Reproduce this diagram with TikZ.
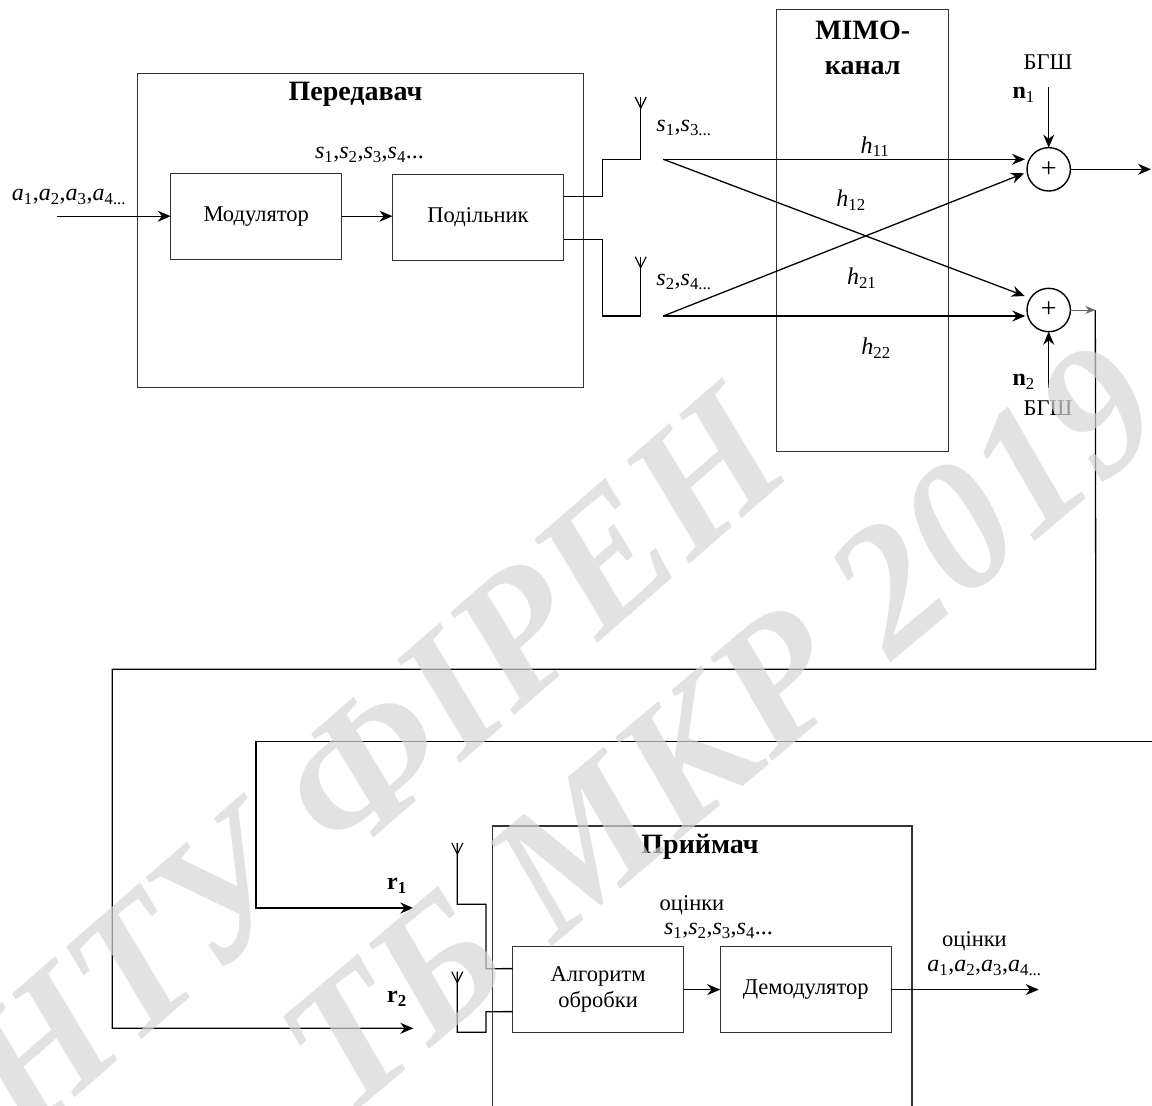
\documentclass[tikz,border=0pt]{standalone}
\usepackage{fontspec}
\setmainfont{Liberation Serif}
\usetikzlibrary{arrows.meta,calc}
\newcommand{\vv}[2]{\textit{#1}\textsubscript{#2}}
\begin{document}
\begin{tikzpicture}[x=1pt,y=-1pt,
  every node/.style={inner sep=0pt, outer sep=0pt},
  frame/.style={draw=black!80, line width=1.4pt},
  blk/.style={frame, minimum width=171pt, minimum height=86pt, font=\fontsize{22.5}{27}\selectfont, align=center},
  wire/.style={line width=1.3pt, draw=black},
  arr/.style={wire, -{Stealth[length=13pt,width=11pt]}},
  thinarr/.style={line width=1pt, draw=black!60, -{Stealth[length=10pt,width=8pt]}},
  lbl/.style={font=\fontsize{22.5}{27}\selectfont},
  mlbl/.style={font=\fontsize{24}{27}\selectfont},
  ttl/.style={font=\bfseries\fontsize{28}{35.5}\selectfont, align=center},
  sum/.style={circle, draw, line width=1.4pt, minimum size=43.4pt, font=\fontsize{28}{28}\selectfont},
  wm/.style={font=\bfseries\itshape\fontsize{182}{182}\selectfont, text=black!16, opacity=0.7},
  antenna/.pic={\draw[wire, line width=1.2pt] (-5.5,0) -- (0,11) -- (5.5,0);},
]
\useasboundingbox (0,0) rectangle (1152,1106);
\fill[white] (0,0) rectangle (1152,1106);

% ---------- transmitter ----------
\node[frame, minimum width=445.8pt, minimum height=314pt] (tx) at (360.6,230.3) {};
\node[ttl] (txT) at (355.5,94) {Передавач};
\node[blk] (mod) at (256.2,216.2) {Модулятор};
\node[blk] (pod) at (478,217.7) {Подільник};
\node[mlbl] (sAll) at (369.5,155) {\vv{s}{1},\vv{s}{2},\vv{s}{3},\vv{s}{4}...};
\coordinate (in1) at (56.7,216.2);
\node[mlbl] (aIn) at (69,196.7) {\vv{a}{1},\vv{a}{2},\vv{a}{3},\vv{a}{4...}};
\draw[arr] (in1) -- (mod.west);
\draw[arr] (mod.east) -- (mod.east -| pod.west);

% antennas of transmitter
\coordinate (tant1) at (640.7,97);
\coordinate (tant2) at (640.7,256.7);
\draw[wire] ([yshift=21pt]pod.east) -- (602.7,196.7) -- (602.7,159.3) -- (640.7,159.3) -- (tant1);
\draw[wire] ([yshift=-21.6pt]pod.east) -- (602.7,239.3) -- (602.7,316) -- (640.7,316) -- (tant2);
\pic at (tant1) {antenna};
\pic at (tant2) {antenna};
\node[mlbl] (s13) at (684,128) {\vv{s}{1},\vv{s}{3...}};
\node[mlbl] (s24) at (684,281.7) {\vv{s}{2},\vv{s}{4...}};

% ---------- MIMO channel ----------
\node[frame, minimum width=171.6pt, minimum height=442.4pt] (mimo) at (862.5,230.5) {};
\node[ttl] (mimoT) at (862.7,48) {МІМО-\\канал};

\coordinate (src1) at (663.3,159.3);
\coordinate (src2) at (663.3,316);

\node[sum] (c1) at (1048.7,169.3) {+};
\node[sum] (c2) at (1048.7,310) {+};

\draw[arr] (src1) -- ($(c1.center)+(-23.7,-10)$);
\draw[arr] (src2) -- ($(c1.center)+(-24.7,4)$);
\draw[arr] (src1) -- ($(c2.center)+(-24,-14)$);
\draw[arr] (src2) -- ($(c2.center)+(-23.4,6)$);

\node[mlbl] (h11) at (875,146.7) {\vv{h}{11}};
\node[mlbl] (h12) at (851,200) {\vv{h}{12}};
\node[mlbl] (h21) at (861.7,278.3) {\vv{h}{21}};
\node[mlbl] (h22) at (876,348.3) {\vv{h}{22}};

% noise
\node[lbl] (bg1) at (1048,61.7) {БГШ};
\node[mlbl] (n1) at (1023.7,95) {\textbf{n}\textsubscript{1}};
\coordinate (n1s) at (1048.7,87.3);
\draw[arr] (n1s) -- (c1.north);
\node[lbl] (bg2) at (1048,408.3) {БГШ};
\node[mlbl] (n2) at (1023.7,381.7) {\textbf{n}\textsubscript{2}};
\coordinate (n2s) at (1048.7,388.3);
\draw[arr] (n2s) -- (c2.south);

% outputs of the adders
\coordinate (out1) at (1151,169.3);
\draw[arr] (c1.east) -- (out1);
\coordinate (j2) at (1095.3,310);
\draw[thinarr] (c2.east) -- (j2);

% ---------- feedback lines to receiver ----------
\coordinate (r2in) at (413.3,1028.3);
\coordinate (r1in) at (413.3,908);
\coordinate (e2) at (1152,741.7);
\draw[arr] (j2) -- (1095.8,669.3) -- (112.3,669.3) -- (112.3,1028.3) -- (r2in);
\draw[arr] (e2) -- (256,741.7) -- (256,908) -- (r1in);
\node[mlbl] (r1) at (397,886) {\textbf{r\textsubscript{1}}};
\node[mlbl] (r2) at (397,999) {\textbf{r\textsubscript{2}}};

% ---------- receiver ----------
\draw[frame] (492.7,1110) -- (492.7,826) -- (912,826) -- (912,1110);
\node[ttl] (rxT) at (700,846.7) {Приймач};
\node[blk] (alg) at (598.1,989.6) {Алгоритм\\[-0.5pt]обробки};
\node[blk] (dem) at (805.7,989.6) {Демодулятор};
\draw[arr] (alg.east) -- (dem.west);
\node[lbl] (est1) at (692,905) {оцінки};
\node[mlbl] (est1s) at (718.5,931) {\vv{s}{1},\vv{s}{2},\vv{s}{3},\vv{s}{4}...};
\coordinate (outA) at (1038.7,989.6);
\draw[arr] (dem.east) -- (outA);
\node[lbl] (est2) at (974.5,941.7) {оцінки};
\node[mlbl] (est2a) at (984.5,968.3) {\vv{a}{1},\vv{a}{2},\vv{a}{3},\vv{a}{4...}};

\coordinate (rant1) at (457.3,843);
\coordinate (rant2) at (457.3,971.7);
\draw[wire] (rant1) -- (457.3,904.3) -- (486,904.3) -- (486,968.7) -- ([yshift=21pt]alg.west);
\draw[wire] (rant2) -- (457.3,1032.3) -- (486,1032.3) -- (486,1011.7) -- ([yshift=-22pt]alg.west);
\pic at (rant1) {antenna};
\pic at (rant2) {antenna};

% ---------- watermark ----------
\node[wm, rotate=41] (wm1) at (372,762) {НТУ ФІРЕН};
\node[wm, rotate=40] (wm2) at (720,728) {ТБ МКР 2019};
\end{tikzpicture}
\end{document}
